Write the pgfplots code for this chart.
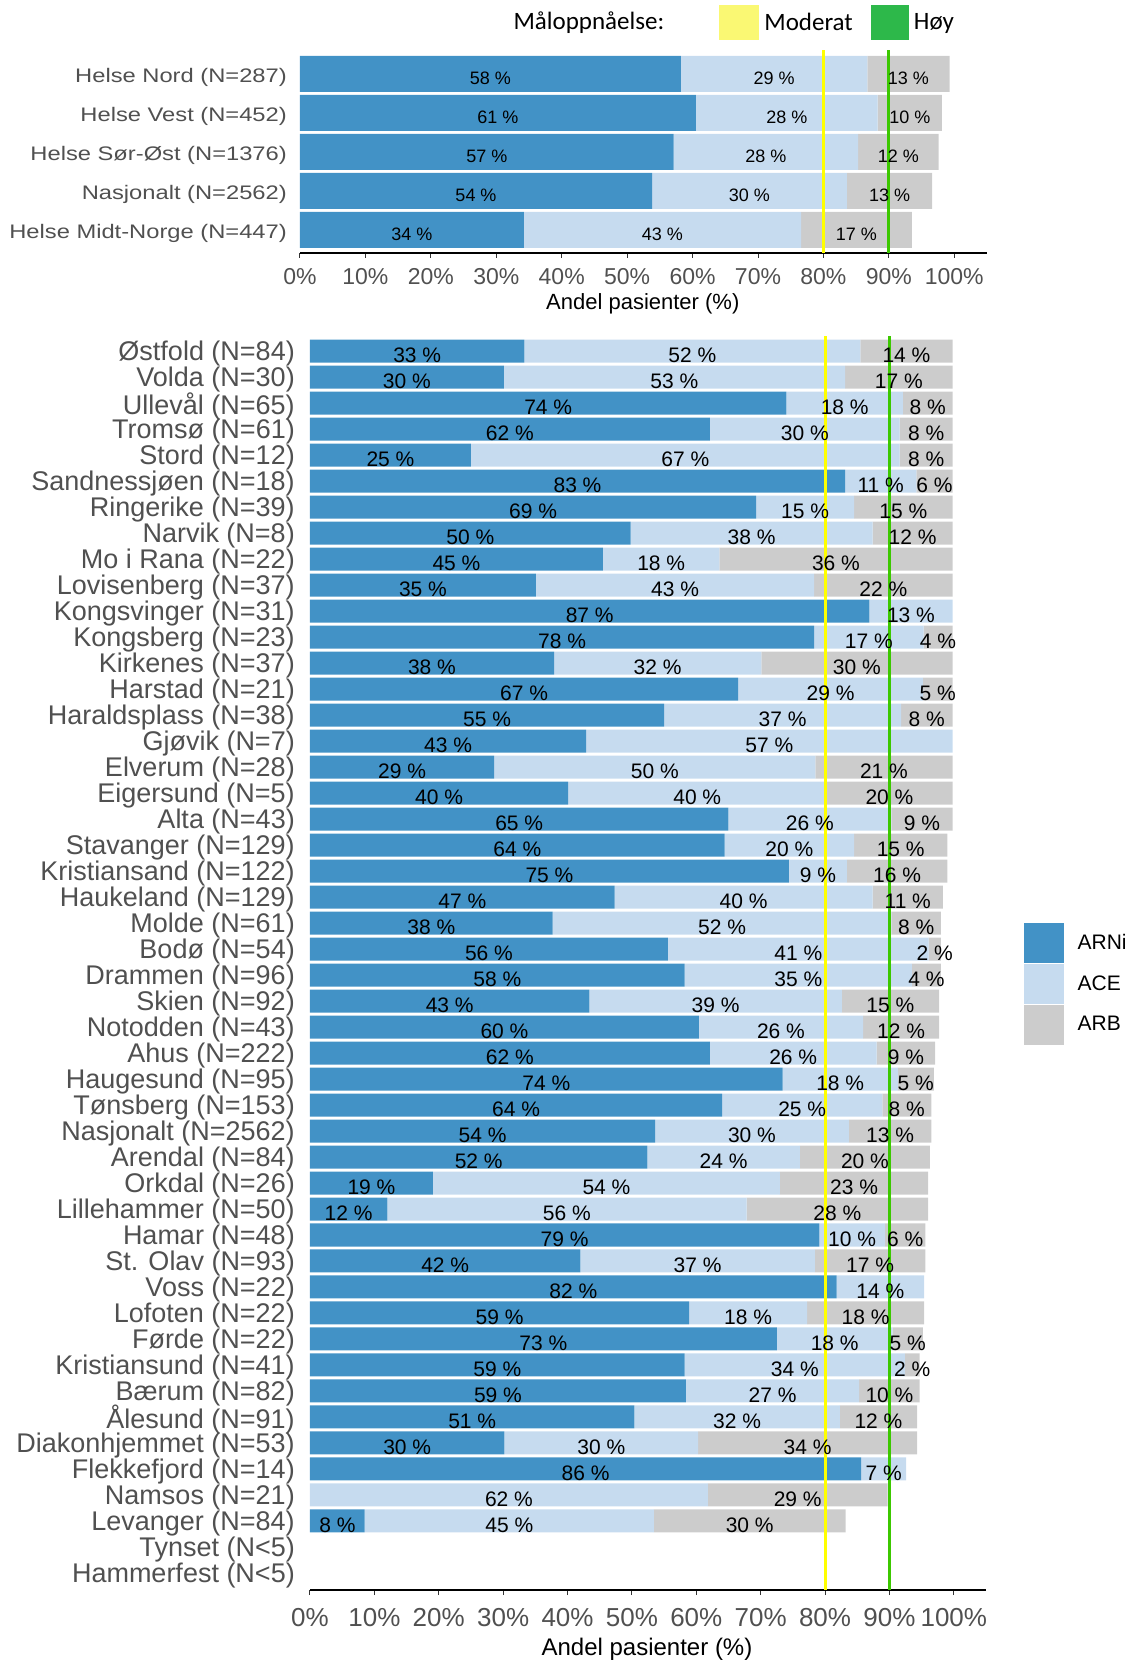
\documentclass[border=0pt]{standalone}
\usepackage{fontspec}
\setmainfont{Liberation Sans}
\newfontfamily\carlito{Carlito}
\newfontfamily\widesans[FakeStretch=1.21]{Liberation Sans}
\usepackage{pgfplots}
\usepackage{pgfplotstable}
\pgfplotsset{compat=1.18}
\definecolor{arni}{RGB}{66,146,198}
\definecolor{ace}{RGB}{198,219,239}
\definecolor{arb}{RGB}{204,204,204}
\definecolor{refyellow}{RGB}{255,255,0}
\definecolor{refgreen}{RGB}{60,200,0}
\definecolor{legyellow}{RGB}{250,248,115}
\definecolor{leggreen}{RGB}{45,184,74}
\definecolor{labgray}{RGB}{80,80,80}

\pgfplotstableread{
idx a b c la lb lc
4 58.2 28.5 12.6 58 29 13
3 60.5 27.8 9.8 61 28 10
2 57.1 28.2 12.3 57 28 12
1 53.8 29.8 13.0 54 30 13
0 34.2 42.4 16.9 34 43 17
}\topdata

\pgfplotstableread{
idx a b c la lb lc
47 33.3 52.2 14.3 33 52 14
46 30.1 53.0 16.7 30 53 17
45 74.0 18.1 7.7 74 18 8
44 62.1 29.5 8.2 62 30 8
43 25.0 66.6 8.2 25 67 8
42 83.1 11.1 5.6 83 11 6
41 69.3 15.2 15.3 69 15 15
40 49.8 37.6 12.4 50 38 12
39 45.5 18.1 36.2 45 18 36
38 35.1 43.2 21.5 35 43 22
37 86.9 12.9 0 87 13 0
36 78.3 17.0 4.5 78 17 4
35 37.9 32.2 29.7 38 32 30
34 66.5 28.7 4.6 67 29 5
33 55.0 36.8 8.0 55 37 8
32 42.9 56.9 0 43 57 0
31 28.6 49.9 21.3 29 50 21
30 40.1 40.1 19.6 40 40 20
29 65.0 25.3 9.5 65 26 9
28 64.4 20.1 14.5 64 20 15
27 74.4 9.0 15.6 75 9 16
26 47.3 40.1 10.9 47 40 11
25 37.7 52.6 7.7 38 52 8
24 55.6 40.5 1.9 56 41 2
23 58.2 35.3 4.5 58 35 4
22 43.4 39.2 15.1 43 39 15
21 60.4 25.5 11.8 60 26 12
20 62.1 25.9 9.1 62 26 9
19 73.4 17.9 5.6 74 18 5
18 64.0 24.9 7.6 64 25 8
17 53.6 30.1 12.8 54 30 13
16 52.4 23.7 20.2 52 24 20
15 19.1 53.9 23.0 19 54 23
14 12.0 55.8 28.2 12 56 28
13 79.1 10.2 6.3 79 10 6
12 42.0 36.4 17.2 42 37 17
11 81.8 13.6 0 82 14 0
10 58.9 18.3 18.2 59 18 18
9 72.5 18.0 4.7 73 18 5
8 58.2 34.2 2.3 59 34 2
7 58.4 26.9 9.4 59 27 10
6 50.4 31.9 12.0 51 32 12
5 30.2 30.1 34.0 30 30 34
4 85.6 7.0 0 86 7 0
3 0 61.8 27.9 0 62 29
2 8.5 44.9 29.8 8 45 30
}\botdata

\pgfplotsset{
  panel/.style={
    scale only axis, clip=false, xmin=0, xmax=105,
    axis x line*=bottom, axis y line*=left,
    y axis line style={draw=none},
    x axis line style={line width=1.5pt, black},
    xtick={0,10,...,100},
    xticklabels={0\%,10\%,20\%,30\%,40\%,50\%,60\%,70\%,80\%,90\%,100\%},
    xtick align=outside,
    major tick length=5pt,
    xtick style={line width=1pt, black!80},
    ytick style={draw=none},
  },
  overlay/.style={
    scale only axis, clip=false, xmin=0, xmax=105, hide axis,
  },
  barlab/.style={
    draw=none, forget plot, point meta=explicit symbolic,
    nodes near coords={\ifnum\pgfplotspointmeta>0 \pgfplotspointmeta\ \%\fi},
    every node near coord/.append style={font=#1, anchor=center, inner sep=0pt, yshift=-4pt, text=black},
  },
}

\begin{document}
\begin{tikzpicture}
\path[use as bounding box] (0,0) rectangle (1129pt,1663pt);

% ---------------- top panel ----------------
\begin{axis}[panel, at={(300pt,1410pt)}, anchor=south west, width=687pt, height=203pt,
  ymin=-0.59, ymax=4.615, xbar stacked, bar width=36pt,
  ytick={0,...,4},
  yticklabels={Helse Midt-Norge (N=447), Nasjonalt (N=2562), Helse Sør-Øst (N=1376), Helse Vest (N=452), Helse Nord (N=287)},
  yticklabel style={font=\widesans\fontsize{19.6}{22}\selectfont, text=labgray, anchor=east, inner sep=0pt, xshift=-13pt, yshift=-3pt},
  xticklabel style={font=\fontsize{23}{27}\selectfont, text=labgray, inner sep=0pt, yshift=-10pt},
  xlabel={Andel pasienter (\%)},
  xlabel style={font=\fontsize{22}{26}\selectfont, at={(axis description cs:0.499,-0.251)}, anchor=center}]
\addplot[fill=arni, draw=none] table[x=a, y=idx]{\topdata};
\addplot[fill=ace, draw=none] table[x=b, y=idx]{\topdata};
\addplot[fill=arb, draw=none] table[x=c, y=idx]{\topdata};
\end{axis}

\begin{axis}[overlay, at={(300pt,1410pt)}, anchor=south west, width=687pt, height=203pt,
  ymin=-0.59, ymax=4.615,
  legend columns=-1, legend cell align=left,
  legend style={at={(axis description cs:0.610,1.137)}, anchor=west, draw=none, fill=none, inner sep=0pt,
    font=\carlito\fontsize{25}{30}\selectfont, nodes={inner sep=0pt},
    /tikz/every odd column/.append style={column sep=6pt},
    /tikz/every even column/.append style={column sep=18pt}}]
\addplot[refyellow, line width=3pt, forget plot] coordinates {(80,-0.59) (80,4.615)};
\addplot[refgreen, line width=3pt, forget plot] coordinates {(90,-0.59) (90,4.615)};
\addplot[barlab={\fontsize{18}{20}\selectfont}] table[x expr=\thisrow{a}/2, y=idx, meta=la]{\topdata};
\addplot[barlab={\fontsize{18}{20}\selectfont}] table[x expr=\thisrow{a}+\thisrow{b}/2, y=idx, meta=lb]{\topdata};
\addplot[barlab={\fontsize{18}{20}\selectfont}] table[x expr=\thisrow{a}+\thisrow{b}+\thisrow{c}/2, y=idx, meta=lc]{\topdata};
\addlegendimage{legend image code/.code={\fill[legyellow] (0pt,-17.15pt) rectangle (38.7pt,17.15pt);}}
\addlegendentry{Moderat}
\addlegendimage{legend image code/.code={\fill[leggreen] (0pt,-17.15pt) rectangle (36.7pt,17.15pt);}}
\addlegendentry{Høy}
\node[anchor=base west, inner sep=0pt, font=\carlito\fontsize{25}{30}\selectfont] at (axis description cs:0.3105,1.102) {Måloppnåelse:};
\end{axis}

% ---------------- bottom panel ----------------
\begin{axis}[panel, at={(310pt,73pt)}, anchor=south west, width=676pt, height=1254pt,
  ymin=-0.654, ymax=47.577, xbar stacked, bar width=23pt,
  ytick={0,...,47},
  yticklabels={Hammerfest (N<5), Tynset (N<5), Levanger (N=84), Namsos (N=21), Flekkefjord (N=14), Diakonhjemmet (N=53), Ålesund (N=91), Bærum (N=82), Kristiansund (N=41), Førde (N=22), Lofoten (N=22), Voss (N=22), St. Olav (N=93), Hamar (N=48), Lillehammer (N=50), Orkdal (N=26), Arendal (N=84), Nasjonalt (N=2562), Tønsberg (N=153), Haugesund (N=95), Ahus (N=222), Notodden (N=43), Skien (N=92), Drammen (N=96), Bodø (N=54), Molde (N=61), Haukeland (N=129), Kristiansand (N=122), Stavanger (N=129), Alta (N=43), Eigersund (N=5), Elverum (N=28), Gjøvik (N=7), Haraldsplass (N=38), Harstad (N=21), Kirkenes (N=37), Kongsberg (N=23), Kongsvinger (N=31), Lovisenberg (N=37), Mo i Rana (N=22), Narvik (N=8), Ringerike (N=39), Sandnessjøen (N=18), Stord (N=12), Tromsø (N=61), Ullevål (N=65), Volda (N=30), Østfold (N=84)},
  yticklabel style={font=\fontsize{27}{29}\selectfont, text=labgray, anchor=east, inner sep=0pt, xshift=-15pt, yshift=-3pt},
  xticklabel style={font=\fontsize{26}{30}\selectfont, text=labgray, inner sep=0pt, yshift=-13pt},
  xlabel={Andel pasienter (\%)},
  xlabel style={font=\fontsize{24}{28}\selectfont, at={(axis description cs:0.4985,-0.047)}, anchor=center}]
\addplot[fill=arni, draw=none] table[x=a, y=idx]{\botdata};
\addplot[fill=ace, draw=none] table[x=b, y=idx]{\botdata};
\addplot[fill=arb, draw=none] table[x=c, y=idx]{\botdata};
\end{axis}

\begin{axis}[overlay, at={(310pt,73pt)}, anchor=south west, width=676pt, height=1254pt,
  ymin=-0.654, ymax=47.577,
  legend cell align=left,
  legend style={at={(axis description cs:1.0562,0.5321)}, anchor=north west, draw=none, fill=none, inner sep=0pt,
    row sep=2pt, column sep=14pt, font=\fontsize{21}{25}\selectfont, nodes={inner sep=0pt}}]
\addplot[refyellow, line width=3pt, forget plot] coordinates {(80,-0.654) (80,47.577)};
\addplot[refgreen, line width=3pt, forget plot] coordinates {(90,-0.654) (90,47.577)};
\addplot[barlab={\fontsize{21}{24}\selectfont}] table[x expr=\thisrow{a}/2, y=idx, meta=la]{\botdata};
\addplot[barlab={\fontsize{21}{24}\selectfont}] table[x expr=\thisrow{a}+\thisrow{b}/2, y=idx, meta=lb]{\botdata};
\addplot[barlab={\fontsize{21}{24}\selectfont}] table[x expr=\thisrow{a}+\thisrow{b}+\thisrow{c}/2, y=idx, meta=lc]{\botdata};
\addlegendimage{legend image code/.code={\fill[arni] (0pt,-19.3pt) rectangle (39pt,19.3pt);}}
\addlegendentry{ARNi}
\addlegendimage{legend image code/.code={\fill[ace] (0pt,-19.3pt) rectangle (39pt,19.3pt);}}
\addlegendentry{ACE}
\addlegendimage{legend image code/.code={\fill[arb] (0pt,-19.3pt) rectangle (39pt,19.3pt);}}
\addlegendentry{ARB}
\end{axis}
\end{tikzpicture}
\end{document}
